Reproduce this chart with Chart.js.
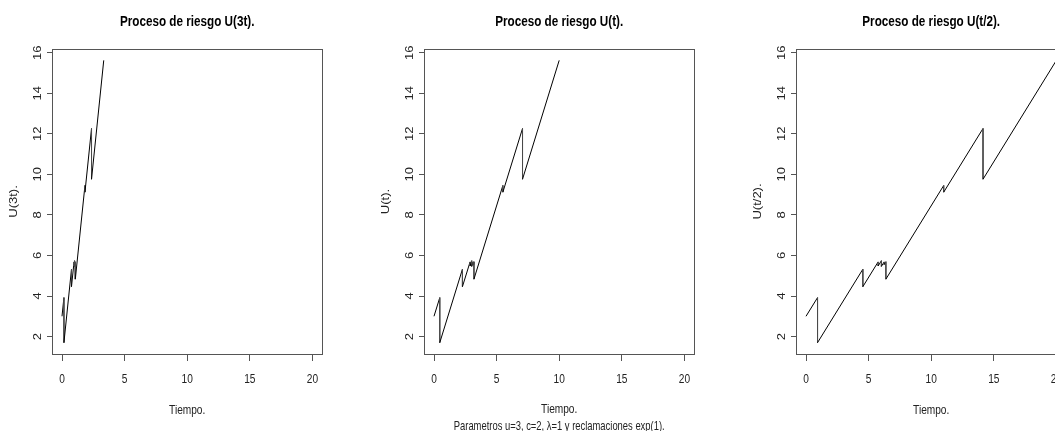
<!DOCTYPE html>
<html><head><meta charset="utf-8">
<script src="https://cdn.jsdelivr.net/npm/chart.js@4.4.0/dist/chart.umd.min.js"></script>
<style>
html,body{margin:0;padding:0;background:#fff;overflow:hidden;width:1055px;height:431px;}
canvas{display:block;position:absolute;top:0;}
#c1{left:0;} #c2{left:372px;} #c3{left:744px;}
</style></head><body>
<canvas id="c1" width="372" height="431"></canvas>
<canvas id="c2" width="372" height="431"></canvas>
<canvas id="c3" width="372" height="431"></canvas>
<script>
// Sample path of the risk process U(t): time points and values (pre/post each claim)
const pathTime = [0, 0.46, 0.46, 2.27, 2.27, 2.88, 2.88, 3.01, 3.01, 3.12, 3.12, 3.19, 3.19, 5.50, 5.50, 7.07, 7.07, 10.0];
const pathU    = [3.00, 3.92, 1.70, 5.32, 4.46, 5.68, 5.48, 5.74, 5.46, 5.68, 5.55, 5.69, 4.83, 9.45, 9.12, 12.26, 9.76, 15.62];
// time scale of each panel: U(3t), U(t), U(t/2)
const timeFactors = [1/3, 1, 2];
const panelTitles = ['Proceso de riesgo U(3t).', 'Proceso de riesgo U(t).', 'Proceso de riesgo U(t/2).'];
const yLabels = ['U(3t).', 'U(t).', 'U(t/2).'];
const xLabel = 'Tiempo.';
const subLabel = 'Parametros u=3, c=2, \u03bb=1 y reclamaciones exp(1).';
const xTicks = [0, 5, 10, 15, 20];
const yTicks = [2, 4, 6, 8, 10, 12, 14, 16];
const xRange = [-0.8, 20.8];
const yRange = [1.14, 16.18];

// the reference picture is horizontally condensed: draw text narrowed on screen x
const SQUISH = 0.78;
const origFill = CanvasRenderingContext2D.prototype.fillText;
CanvasRenderingContext2D.prototype.fillText = function (text, x, y, maxWidth) {
  const m = this.getTransform();
  const p = m.transformPoint(new DOMPoint(x, y));
  this.save();
  this.setTransform(new DOMMatrix().translate(p.x, p.y).scale(SQUISH, 1).translate(-p.x, -p.y).multiply(m));
  if (maxWidth === undefined) origFill.call(this, text, x, y);
  else origFill.call(this, text, x, y, maxWidth);
  this.restore();
};

Chart.defaults.font.family = "'Liberation Sans', Arial, sans-serif";

const framePlugin = {
  id: 'frame',
  afterDatasetsDraw(chart) {
    const {ctx, chartArea: a} = chart;
    ctx.save();
    ctx.strokeStyle = '#555';
    ctx.lineWidth = 1;
    ctx.strokeRect(Math.round(a.left) + 0.5, Math.round(a.top) + 0.5,
                   Math.round(a.right - a.left), Math.round(a.bottom - a.top));
    ctx.restore();
  }
};

['c1', 'c2', 'c3'].forEach((id, i) => {
  const pts = pathTime.map((t, k) => ({x: t * timeFactors[i], y: pathU[k]}));
  new Chart(document.getElementById(id), {
    type: 'line',
    data: { datasets: [{
      data: pts, borderColor: '#000', borderWidth: 1, pointRadius: 0, tension: 0, fill: false,
      segment: { borderColor: c => (Math.abs(c.p0.x - c.p1.x) < 0.5 ? '#4a4a4a' : '#000') }
    }] },
    plugins: [framePlugin],
    options: {
      responsive: false, animation: false, devicePixelRatio: 1, events: [],
      layout: { padding: { left: 0, right: 49.6, top: 0, bottom: 0 } },
      plugins: {
        legend: { display: false }, tooltip: { enabled: false },
        title: { display: true, text: panelTitles[i], fullSize: false, color: '#000',
                 font: { size: 15, weight: 'bold', lineHeight: 1.2 }, padding: { top: 13, bottom: 18 } }
      },
      scales: {
        x: {
          type: 'linear', min: xRange[0], max: xRange[1],
          afterBuildTicks: s => { s.ticks = xTicks.map(v => ({value: v})); },
          afterFit: s => { s.height = 77; },
          grid: { display: true, drawOnChartArea: false, drawTicks: true, tickLength: 7, color: '#555' },
          border: { display: false },
          ticks: { padding: 10.4, color: '#222', font: { size: 13 }, maxRotation: 0, autoSkip: false },
          title: { display: true, text: i === 1 ? [xLabel, subLabel] : xLabel, color: '#222',
                   font: { size: 13, lineHeight: 1.33 }, padding: { top: 0, bottom: i === 1 ? -4.15 : 12.35 } }
        },
        y: {
          type: 'linear', min: yRange[0], max: yRange[1],
          afterBuildTicks: s => { s.ticks = yTicks.map(v => ({value: v})); },
          afterFit: s => { s.width = 52; },
          grid: { display: true, drawOnChartArea: false, drawTicks: true, tickLength: 5, color: '#555' },
          border: { display: false },
          ticks: { padding: 2, crossAlign: 'center', minRotation: 90, maxRotation: 90, color: '#222', font: { size: 13 }, autoSkip: false },
          title: { display: true, text: yLabels[i], color: '#222', font: { size: 13, lineHeight: 1.2 }, padding: { top: 6.4, bottom: 0 } }
        }
      }
    }
  });
});
</script>
</body></html>
